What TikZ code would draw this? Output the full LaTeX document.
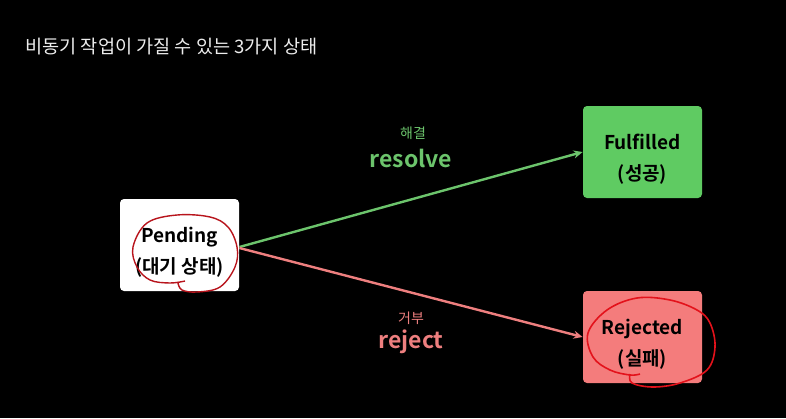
\documentclass[tikz,border=0pt]{standalone}
\usepackage{fontspec}
\setmainfont{Noto Sans CJK KR}[BoldFont={Noto Sans CJK KR Bold}]
\usepackage{xcolor}
\definecolor{bgdark}{HTML}{000000}
\definecolor{titlegray}{HTML}{EDEDED}
\definecolor{okgreen}{HTML}{5FCB62}
\definecolor{okline}{HTML}{6CC46C}
\definecolor{errpink}{HTML}{F47C7C}
\definecolor{errline}{HTML}{EE7F7F}
\definecolor{penred}{HTML}{B8141C}
\definecolor{penbright}{HTML}{E3121B}
\usetikzlibrary{arrows.meta,positioning}
% two centred lines, set a little lower in the box
\newcommand{\statetext}[2]{\raisebox{-3.5pt}[\height][\depth]{\begin{tabular}{@{}c@{}}#1\\#2\end{tabular}}}

\begin{document}
\begin{tikzpicture}[x=0.5pt, y=-0.5pt,
    statebox/.style={rounded corners=2pt, minimum width=59.5pt, minimum height=46pt,
      font=\bfseries\fontsize{9.5}{15.5}\selectfont, text=black, inner sep=0pt},
    flow/.style={line width=1.2pt, -{Stealth[length=4.5pt, width=4pt]}},
    smalllbl/.style={font=\fontsize{7}{8}\selectfont},
    biglbl/.style={font=\bfseries\fontsize{11.5}{13}\selectfont}]
        % Background
        \fill[bgdark] (0,0) rectangle (786,418);
        \useasboundingbox (0,0) rectangle (786,418);
        % Title
        \node[anchor=west, text=titlegray, font=\fontsize{9.3}{11}\selectfont, inner sep=0pt] (title) at (25,47) {비동기 작업이 가질 수 있는 3가지 상태};
        % States
        \node[statebox, fill=white] (pending) at (179.5,245) {\statetext{Pending}{(대기 상태)}};
        \node[statebox, fill=okgreen] (fulfilled) at (642.5,152) {\statetext{Fulfilled}{(성공)}};
        \node[statebox, fill=errpink] (rejected) at (642.5,337) {\statetext{Rejected}{(실패)}};
        % Transitions
        \draw[flow, okline] ([yshift=-1pt]pending.east) -- (fulfilled.west);
        \draw[flow, errline] ([yshift=-1.5pt]pending.east) -- (rejected.west);
        % Transition labels
        \node[smalllbl, text=okline] (resolvekr) at (413,133) {해결};
        \node[biglbl, text=okline] (resolve) at (411,158) {resolve};
        \node[smalllbl, text=errline] (rejectkr) at (411,318) {거부};
        \node[biglbl, text=errline] (reject) at (411,342) {reject};
        % Hand-drawn marks
        \draw[penred, line width=0.7pt] plot[smooth, tension=0.6] coordinates {(178,283) (182,290) (197,292) (220,287) (235,267) (237,247) (228,227) (210,217) (177,215) (147,223) (133,247) (137,267) (150,280) (170,283) (185,281)};
        \draw[penbright, line width=0.8pt] plot[smooth, tension=0.6] coordinates {(630,374) (632,383) (653,387) (680,383) (707,370) (715,347) (710,323) (697,310) (670,300) (637,298) (607,310) (588,333) (593,357) (610,370) (630,375) (640,374)};
      \end{tikzpicture}
\end{document}
